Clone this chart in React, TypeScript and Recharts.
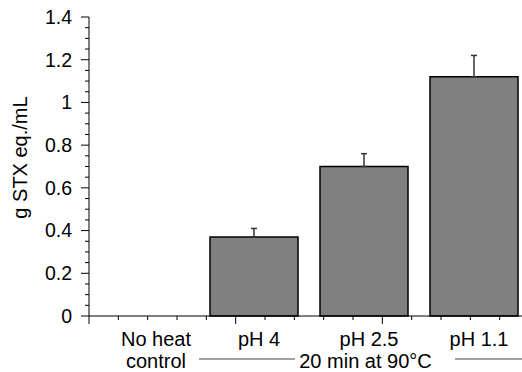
import React from 'react';
import { BarChart, Bar, XAxis, YAxis, ErrorBar } from 'recharts';

const categories = ['No heat\ncontrol', 'pH 4', 'pH 2.5', 'pH 1.1'];
const toxinValues = [0, 0.37, 0.7, 1.12];
const toxinErrors = [0, 0.04, 0.06, 0.1];
const yTicks = [0, 0.2, 0.4, 0.6, 0.8, 1, 1.2, 1.4];
const yMinorTicks = Array.from({ length: 29 }, (_, i) => (i * 5) / 100);
const xMinorTicks = Array.from({ length: 21 }, (_, i) => i / 5);
const yAxisTitle = 'g STX eq./mL';
const groupTitle = '20 min at 90°C';

const FONT = '"Liberation Sans", Arial, sans-serif';

const data = categories.map((name, i) => ({
  name,
  value: toxinValues[i],
  err: [0, toxinErrors[i]],
}));

// y ticks: long tick + label on the majors, short tick on the minors
const YTick = ({ x, y, payload }: any) => {
  const major = yTicks.includes(payload.value);
  return (
    <g>
      <line x1={x - (major ? 8 : 4)} y1={y} x2={x} y2={y} stroke="#000" strokeWidth={1} />
      {major && (
        <text x={x - 17} y={y} dy="0.355em" textAnchor="end" fontSize={19.5} fill="#000" fontFamily={FONT}>
          {String(payload.value)}
        </text>
      )}
    </g>
  );
};

// x ticks: long at the category boundaries, short in between
const XTick = ({ x, y, payload }: any) => {
  const major = Number.isInteger(payload.value);
  return <line x1={x} y1={y} x2={x} y2={y + (major ? 8 : 4)} stroke="#000" strokeWidth={1} />;
};

const CategoryTick = ({ x, y, payload }: any) => {
  const lines = String(payload.value).split('\n');
  const dx = lines.length > 1 ? 12 : 5;
  return (
    <text x={x + dx} y={y} textAnchor="middle" fontSize={20} fill="#000" fontFamily={FONT}>
      {lines.map((line, i) => (
        <tspan key={i} x={x + dx} dy={i === 0 ? 28.5 : 22.5}>
          {line}
        </tspan>
      ))}
    </text>
  );
};

// "20 min at 90°C" with the bracket lines under the heated groups
const GroupLabel = ({ viewBox }: any) => {
  const { x, y } = viewBox;
  return (
    <g>
      <line x1={x + 110} y1={y + 42} x2={x + 206} y2={y + 42} stroke="#444" strokeWidth={1} />
      <text x={x + 276.5} y={y + 51} textAnchor="middle" fontSize={20} fill="#000" fontFamily={FONT}>
        {groupTitle}
      </text>
      <line x1={x + 366} y1={y + 42} x2={x + 440} y2={y + 42} stroke="#444" strokeWidth={1} />
    </g>
  );
};

const YTitle = ({ viewBox }: any) => {
  const cx = 26.5;
  const cy = viewBox.y + viewBox.height / 2 - 9;
  return (
    <text
      x={cx}
      y={cy}
      textAnchor="middle"
      fontSize={20}
      fill="#000"
      fontFamily={FONT}
      transform={`rotate(-90, ${cx}, ${cy})`}
    >
      {yAxisTitle}
    </text>
  );
};

export default function App() {
  return (
    <div
      style={{
        position: 'absolute',
        left: 0,
        top: 0,
        width: 522,
        height: 372,
        overflow: 'hidden',
        background: '#fff',
      }}
    >
      <BarChart
        width={540}
        height={372}
        data={data}
        margin={{ top: 17, right: 11, left: 9, bottom: 0 }}
        barCategoryGap="10%"
      >
        <XAxis
          xAxisId="a_ticks"
          type="number"
          domain={[0, 4]}
          allowDataOverflow
          ticks={xMinorTicks}
          interval={0}
          tick={<XTick />}
          tickLine={false}
          tickSize={0}
          tickMargin={0}
          axisLine={{ stroke: '#000' }}
          height={1}
        />
        <XAxis
          xAxisId="z_cat"
          dataKey="name"
          height={55}
          tickLine={false}
          tickSize={0}
          tickMargin={0}
          axisLine={false}
          tick={<CategoryTick />}
          interval={0}
          label={<GroupLabel />}
        />
        <YAxis
          yAxisId="main"
          domain={[0, 1.4]}
          ticks={yMinorTicks}
          interval={0}
          width={80}
          tickSize={0}
          tickMargin={0}
          tickLine={false}
          axisLine={{ stroke: '#000' }}
          tick={<YTick />}
          label={<YTitle />}
        />
        <Bar
          xAxisId="z_cat"
          yAxisId="main"
          dataKey="value"
          fill="#808080"
          stroke="#000"
          strokeWidth={1.5}
          isAnimationActive={false}
        >
          <ErrorBar dataKey="err" width={3} stroke="#333" strokeWidth={1.5} direction="y" />
        </Bar>
      </BarChart>
    </div>
  );
}
